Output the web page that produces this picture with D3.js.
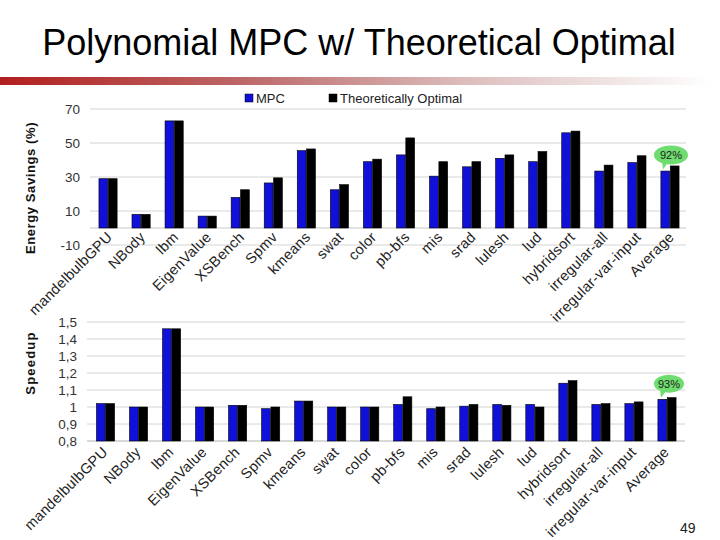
<!DOCTYPE html>
<html>
<head>
<meta charset="utf-8">
<script src="https://cdn.jsdelivr.net/npm/d3@7"></script>
<style>
  body { margin: 0; background: #fff; }
  svg  { display: block; font-family: "Liberation Sans", Arial, sans-serif; }
</style>
</head>
<body>
<svg id="chart" width="720" height="540"></svg>
<script>
// ─── Data ─────────────────────────────────────────────────────────────────────

const CATEGORIES = [
  "mandelbulbGPU", "NBody", "lbm", "EigenValue", "XSBench", "Spmv", "kmeans", "swat",
  "color", "pb-bfs", "mis", "srad", "lulesh", "lud", "hybridsort", "irregular-all",
  "irregular-var-input", "Average",
];
const SERIES = ["MPC", "Theoretically Optimal"];

const ENERGY_MPC     = [29, 8, 63, 7, 18, 26.5, 45.5, 22.5, 39, 43, 30.5, 36, 41, 39, 56, 33.5, 38.5, 33.5];
const ENERGY_OPTIMAL = [29, 8, 63, 7, 22.5, 29.5, 46.5, 25.5, 40.5, 53, 39, 39, 43, 45, 57, 37, 42.5, 36.5];

const SPEEDUP_MPC     = [1.02, 1.0, 1.46, 1.0, 1.01, 0.99, 1.035, 1.0, 1.0, 1.015, 0.99, 1.005, 1.015, 1.015, 1.14, 1.015, 1.02, 1.045];
const SPEEDUP_OPTIMAL = [1.02, 1.0, 1.46, 1.0, 1.01, 1.0, 1.035, 1.0, 1.0, 1.06, 1.0, 1.015, 1.01, 1.0, 1.155, 1.02, 1.03, 1.055];

const ENERGY_TICKS  = [-10, 10, 30, 50, 70];
const SPEEDUP_TICKS = [0.8, 0.9, 1.0, 1.1, 1.2, 1.3, 1.4, 1.5];
const SPEEDUP_TICK_LABELS = ["0,8", "0,9", "1", "1,1", "1,2", "1,3", "1,4", "1,5"];

const ENERGY_BUBBLE  = "92%";
const SPEEDUP_BUBBLE = "93%";

// ─── Style ────────────────────────────────────────────────────────────────────

const COLORS = { "MPC": "#1010d8", "Theoretically Optimal": "#000000" };
const GRID   = "#d4d4d4";
const BUBBLE = "#6fdc6f";

const svg = d3.select("#chart");

// ─── Title + red bar ──────────────────────────────────────────────────────────

const grad = svg.append("defs").append("linearGradient").attr("id", "title-bar");
[["0%", "#b21e1e"], ["35%", "#bd6a6a"], ["65%", "#dcbcbc"], ["100%", "#ffffff"]].forEach(([o, c]) => {
  grad.append("stop").attr("offset", o).attr("stop-color", c);
});
svg.append("rect").attr("x", 0).attr("y", 77).attr("width", 712).attr("height", 8)
  .attr("fill", "url(#title-bar)");

svg.append("text")
  .attr("x", 359).attr("y", 55)
  .attr("text-anchor", "middle")
  .attr("font-size", 36)
  .attr("fill", "#000")
  .text("Polynomial MPC w/ Theoretical Optimal");

// ─── Legend ───────────────────────────────────────────────────────────────────

const legendX = [245, 329];
SERIES.forEach((s, i) => {
  svg.append("rect").attr("x", legendX[i]).attr("y", 94).attr("width", 8).attr("height", 8)
    .attr("fill", COLORS[s]).attr("stroke", "#000").attr("stroke-width", 0.5);
  svg.append("text").attr("x", legendX[i] + 11).attr("y", 103)
    .attr("font-size", 13).attr("fill", "#222").text(s);
});

// ─── Panel helper ─────────────────────────────────────────────────────────────

function drawPanel(cfg) {
  const g = svg.append("g");

  const x = d3.scaleBand().domain(CATEGORIES).range(cfg.xRange)
    .paddingInner(0.45).paddingOuter(0.225);
  const xs = d3.scaleBand().domain(SERIES).range([0, x.bandwidth()]).paddingInner(0.06);
  const y = d3.scaleLinear().domain(cfg.domain).range(cfg.yRange);

  // gridlines
  g.selectAll("line.grid")
    .data(cfg.ticks)
    .join("line")
    .attr("x1", cfg.gridX[0]).attr("x2", cfg.gridX[1])
    .attr("y1", d => y(d)).attr("y2", d => y(d))
    .attr("stroke", GRID).attr("stroke-width", 1);

  // baseline
  g.append("line")
    .attr("x1", cfg.gridX[0]).attr("x2", cfg.gridX[1])
    .attr("y1", y(cfg.base)).attr("y2", y(cfg.base))
    .attr("stroke", "#c8c8c8");

  // tick labels
  g.selectAll("text.tick")
    .data(cfg.ticks)
    .join("text")
    .attr("x", cfg.labelX).attr("y", d => y(d))
    .attr("dy", "0.36em")
    .attr("text-anchor", "end")
    .attr("font-size", 13.5)
    .attr("fill", "#333")
    .text((d, i) => cfg.tickLabels[i]);

  // bars
  const rowsData = CATEGORIES.map((c, i) => ({ c, vals: [cfg.a[i], cfg.b[i]] }));
  g.selectAll("g.cat")
    .data(rowsData)
    .join("g")
    .attr("transform", d => `translate(${x(d.c)},0)`)
    .selectAll("rect")
    .data(d => d.vals.map((v, j) => ({ s: SERIES[j], v })))
    .join("rect")
    .attr("x", d => xs(d.s))
    .attr("width", xs.bandwidth())
    .attr("y", d => Math.min(y(d.v), y(cfg.base)))
    .attr("height", d => Math.abs(y(cfg.base) - y(d.v)))
    .attr("fill", d => COLORS[d.s])
    .attr("stroke", "#000").attr("stroke-width", 0.6);

  // category labels
  const labelY = y(cfg.labelBase) + cfg.labelDy;
  g.selectAll("text.cat")
    .data(CATEGORIES)
    .join("text")
    .attr("transform", c => `translate(${x(c) + x.bandwidth() / 2 + cfg.labelDx},${labelY}) rotate(-45)`)
    .attr("text-anchor", "end")
    .attr("font-size", 14.5)
    .attr("letter-spacing", 0.3)
    .attr("fill", "#222")
    .text(c => c);

  // axis title
  svg.append("text")
    .attr("transform", `translate(35,${cfg.titleY}) rotate(-90)`)
    .attr("text-anchor", "middle")
    .attr("font-size", 13)
    .attr("font-weight", "bold")
    .attr("letter-spacing", cfg.titleSpacing)
    .attr("fill", "#111")
    .text(cfg.title);

  // speech bubble over Average
  const last = CATEGORIES.length - 1;
  const bx = x("Average") + x.bandwidth() / 2 + cfg.bubble.dx;
  const by = y(cfg.b[last]) - cfg.bubble.dy;
  const bg = svg.append("g");
  bg.append("path")
    .attr("d", `M${bx - 9},${by + 5} L${bx - 8},${by + cfg.bubble.ry + 5} L${bx - 2},${by + 6} Z`)
    .attr("fill", BUBBLE);
  bg.append("ellipse")
    .attr("cx", bx).attr("cy", by)
    .attr("rx", cfg.bubble.rx).attr("ry", cfg.bubble.ry)
    .attr("fill", BUBBLE);
  bg.append("text")
    .attr("x", bx).attr("y", by).attr("dy", "0.36em")
    .attr("text-anchor", "middle")
    .attr("font-size", 11)
    .attr("fill", "#222")
    .text(cfg.bubble.text);
}

// ─── Energy savings panel ─────────────────────────────────────────────────────

drawPanel({
  a: ENERGY_MPC, b: ENERGY_OPTIMAL,
  domain: [-10, 70], yRange: [245, 109], base: 0,
  xRange: [91.5, 686.5], gridX: [90, 686], labelX: 80,
  ticks: ENERGY_TICKS, tickLabels: ENERGY_TICKS.map(String),
  labelBase: 0, labelDx: 5, labelDy: 10,
  title: "Energy Savings (%)", titleY: 188, titleSpacing: 0.6,
  bubble: { text: ENERGY_BUBBLE, dx: 1, dy: 11, rx: 17, ry: 9.5 },
});

// ─── Speedup panel ────────────────────────────────────────────────────────────

drawPanel({
  a: SPEEDUP_MPC, b: SPEEDUP_OPTIMAL,
  domain: [0.8, 1.5], yRange: [441, 322], base: 0.8,
  xRange: [89, 683.5], gridX: [87, 685], labelX: 77,
  ticks: SPEEDUP_TICKS, tickLabels: SPEEDUP_TICK_LABELS,
  labelBase: 0.8, labelDx: 3, labelDy: 12,
  title: "Speedup", titleY: 363, titleSpacing: 1.2,
  bubble: { text: SPEEDUP_BUBBLE, dx: 2, dy: 14, rx: 15, ry: 9 },
});

// ─── Page number ──────────────────────────────────────────────────────────────

svg.append("text").attr("x", 680).attr("y", 533)
  .attr("font-size", 14).attr("fill", "#222").text("49");
</script>
</body>
</html>
